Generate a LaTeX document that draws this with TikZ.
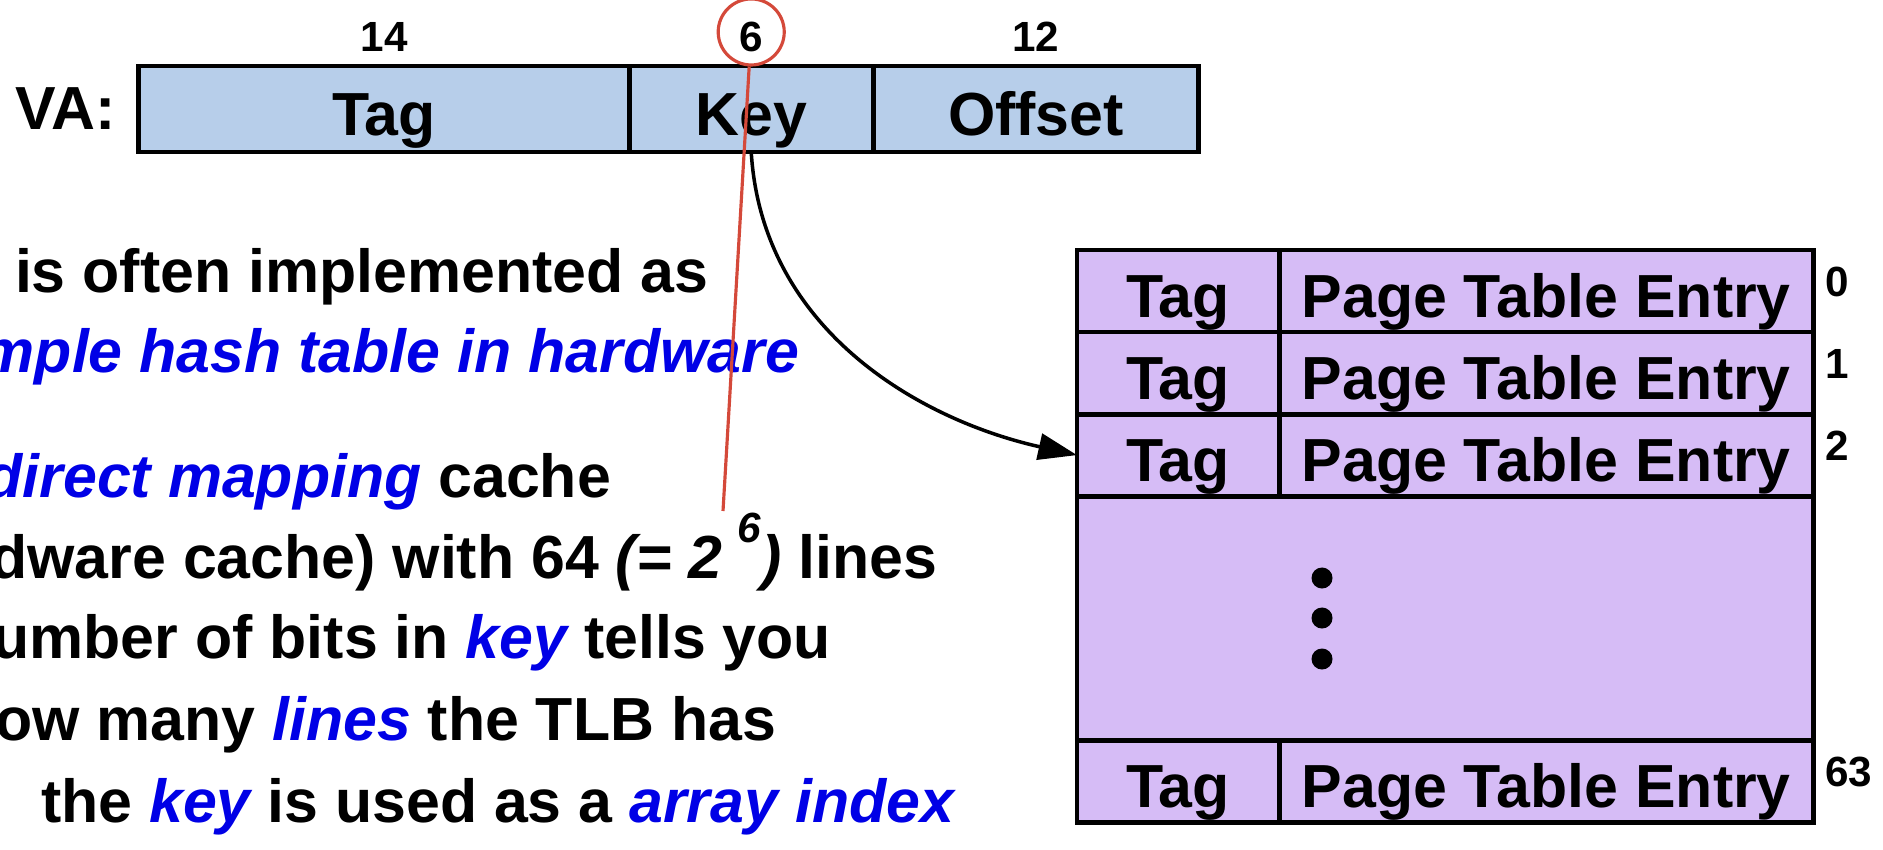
\documentclass[tikz,border=0pt]{standalone}
\usepackage{fontspec}
\setmainfont{Liberation Sans}
\usepackage{xcolor}
\usetikzlibrary{positioning,arrows.meta}

\definecolor{vafill}{HTML}{B7CEEA}
\definecolor{tlbfill}{HTML}{D6BCF6}
\definecolor{ringred}{HTML}{D4493A}
\definecolor{kwblue}{HTML}{0000E6}

\newcommand{\kw}[1]{\textcolor{kwblue}{\itshape #1}}
\newcommand{\bigfont}{\fontsize{17.3}{20}\selectfont\bfseries}
\newcommand{\smallfont}{\fontsize{12}{14}\selectfont\bfseries}

\tikzstyle{field} = [rectangle, draw, line width=1.4pt, fill=vafill, minimum height=0.86cm, inner sep=0pt, outer sep=0pt, text height=0.6cm, text depth=0.08cm, font=\bigfont]
\tikzstyle{cell} = [field, fill=tlbfill, minimum height=0.82cm]
\tikzstyle{bits} = [inner sep=0pt, font=\smallfont]
\tikzstyle{say} = [inner sep=0pt, font=\bigfont]
\tikzstyle{vdot} = [circle, fill, inner sep=0pt, minimum size=0.21cm]
\tikzstyle{ring} = [circle, draw=ringred, line width=0.9pt, minimum size=0.66cm, inner sep=0pt]

\begin{document}
\begin{tikzpicture}[x=0.01cm,y=-0.01cm,>={Triangle[length=11pt,width=7.5pt]},semithick]
  \useasboundingbox (0,0) rectangle (1883,849);

  % virtual address
  \node[field, minimum width=4.9cm] (VA_tag) at (384,109) {Tag};
  \node[field, minimum width=2.44cm, right=0pt of VA_tag] (VA_key) {Key};
  \node[field, minimum width=3.25cm, right=0pt of VA_key] (VA_off) {Offset};
  \node[say, anchor=base east] (VA) at (117,130) {VA:};
  \node[bits, above=0.13cm of VA_tag] (n14) {14};
  \node[bits, above=0.13cm of VA_key] (n6) {6};
  \node[bits, above=0.13cm of VA_off] (n12) {12};

  % TLB
  \node[cell, minimum width=2.02cm] (T_tag0) at (1178,291) {Tag};
  \node[cell, minimum width=5.34cm, right=0pt of T_tag0] (T_pte0) {Page Table Entry};
  \node[cell, minimum width=2.02cm, below=0pt of T_tag0] (T_tag1) {Tag};
  \node[cell, minimum width=5.34cm, right=0pt of T_tag1] (T_pte1) {Page Table Entry};
  \node[cell, minimum width=2.02cm, below=0pt of T_tag1] (T_tag2) {Tag};
  \node[cell, minimum width=5.34cm, right=0pt of T_tag2] (T_pte2) {Page Table Entry};
  \node[cell, minimum width=7.36cm, minimum height=2.44cm, below=0pt of T_tag2.south west, anchor=north west] (T_gap) {};
  \node[cell, minimum width=2.02cm, below=0pt of T_gap.south west, anchor=north west] (T_tag63) {Tag};
  \node[cell, minimum width=5.34cm, right=0pt of T_tag63] (T_pte63) {Page Table Entry};
  \node[vdot] (d1) at (1322,578) {};
  \node[vdot] (d2) at (1322,618) {};
  \node[vdot] (d3) at (1322,659) {};
  \node[bits, anchor=north west] (i0) at ([shift={(11,16)}]T_pte0.north east) {0};
  \node[bits, anchor=north west] (i1) at ([shift={(11,16)}]T_pte1.north east) {1};
  \node[bits, anchor=north west] (i2) at ([shift={(11,16)}]T_pte2.north east) {2};
  \node[bits, anchor=north west] (i63) at ([shift={(11,16)}]T_pte63.north east) {63};

  % text
  \node[say, anchor=base west] (L1) at (14,293) {is often implemented as};
  \node[say, anchor=base east] (L2) at (800,373) {\kw{mple hash table in hardware}};
  \node[say, anchor=base east] (L3) at (612,497) {\kw{direct mapping} cache};
  \node[say, anchor=base east] (L4) at (938,578) {dware cache) with 64 {\itshape (= 2\hspace{0.25em}\raisebox{10pt}{\fontsize{12}{14}\selectfont 6})} lines};
  \node[say, anchor=base east] (L5) at (832,658) {umber of bits in \kw{key} tells you};
  \node[say, anchor=base east] (L6) at (777,740) {ow many \kw{lines} the TLB has};
  \node[say, anchor=base west] (L7) at (40,822) {the \kw{key} is used as a \kw{array index}};

  % key -> line
  \draw[->, line width=1pt] (VA_key.south) .. controls (762,330) and (920,420) .. (T_tag2.west);

  % highlight
  \node[ring] (hl) at ([yshift=0.05cm]n6.center) {};
  \coordinate (hl_end) at (723,511);
  \draw[ringred, line width=0.9pt] (hl) -- (hl_end);
\end{tikzpicture}
\end{document}
